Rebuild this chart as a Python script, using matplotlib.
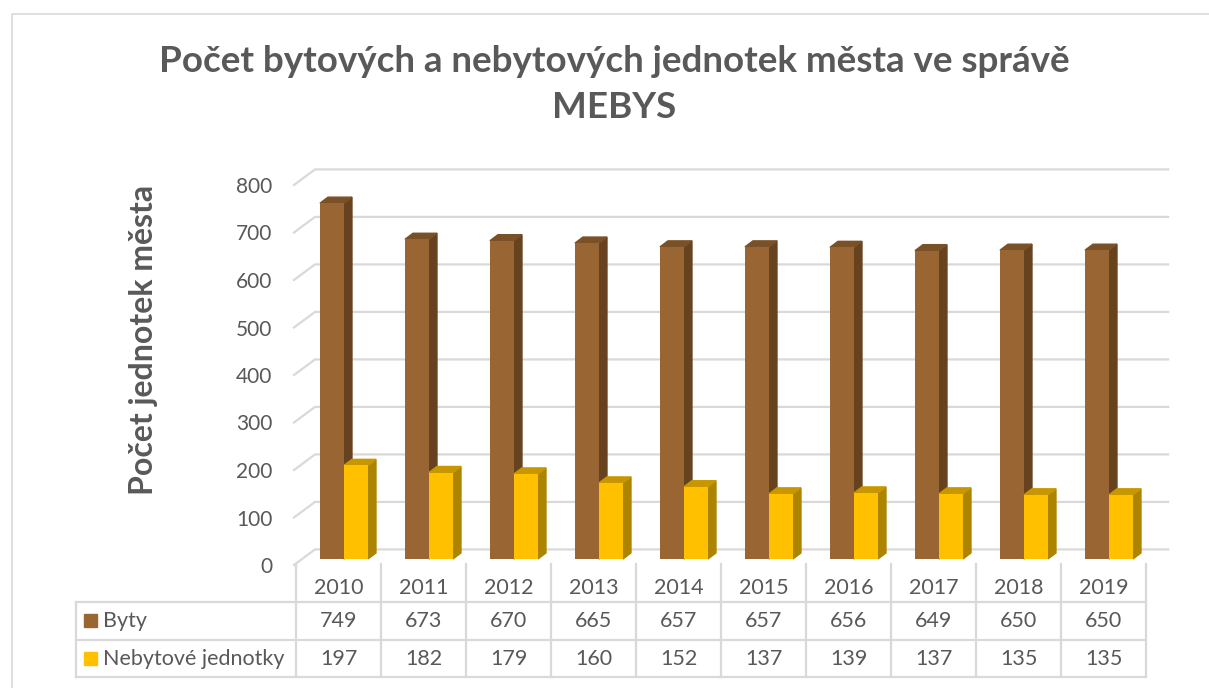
import matplotlib.pyplot as plt
from matplotlib.patches import Polygon, Rectangle

plt.rcParams['font.family'] = ['Lato', 'DejaVu Sans']

# data
roky = ['2010', '2011', '2012', '2013', '2014', '2015', '2016', '2017', '2018', '2019']
byty = [749, 673, 670, 665, 657, 657, 656, 649, 650, 650]
nebytove = [197, 182, 179, 160, 152, 137, 139, 137, 135, 135]
serie = ['Byty', 'Nebytové jednotky']
yticks = [0, 100, 200, 300, 400, 500, 600, 700, 800]

barvy = {
    'Byty': ('#996633', '#67421F', '#7A5127'),
    'Nebytové jednotky': ('#FFC000', '#AD8400', '#C89700'),
}
txt = '#595959'
sed = '#D9D9D9'

W, H = 1209, 688
fig = plt.figure(figsize=(W / 100, H / 100), dpi=100)


def fx(px):
    return px / W


def fy(py):
    return 1 - py / H


# hlavni osa: kategorie x rocni hodnoty
ax = fig.add_axes([fx(296), fy(565), (1146 - 296) / W, (565 - 185) / H])
ax.set_xlim(-0.5, 9.5)
ax.set_ylim(0, 800)
for s in ax.spines.values():
    s.set_visible(False)
ax.patch.set_visible(False)
ax.set_xticks([])
ax.set_yticks(yticks)
ax.tick_params(axis='y', length=0, pad=17, labelsize=15, labelcolor=txt)

# hloubka (3D efekt) v datovych jednotkach
wall_dx, wall_dy = 21 / 85, 15.5 / 0.4725
bar_dx, bar_dy = 8 / 85, 6 / 0.4725
lift = 6 / 0.4725

for v in yticks:
    ax.plot([-0.5 - 2 / 85, -0.5 - 2 / 85 + wall_dx, 9.76],
            [v, v + wall_dy, v + wall_dy],
            color=sed, lw=1.6, clip_on=False, zorder=1)

w = 24 / 85


def bar3d(x0, val, cols, z):
    front, side, top = cols
    ax.bar(x0, val, width=w, bottom=lift, align='edge', color=front,
           zorder=z + 0.2, clip_on=False)
    y0, y1 = lift, lift + val
    ax.add_patch(Polygon([(x0 + w, y0), (x0 + w + bar_dx, y0 + bar_dy),
                          (x0 + w + bar_dx, y1 + bar_dy), (x0 + w, y1)],
                         closed=True, color=side, zorder=z, clip_on=False))
    ax.add_patch(Polygon([(x0, y1), (x0 + bar_dx, y1 + bar_dy),
                          (x0 + w + bar_dx, y1 + bar_dy), (x0 + w, y1)],
                         closed=True, color=top, zorder=z + 0.1, clip_on=False))


for i in range(len(roky)):
    bar3d(i - 0.218, byty[i], barvy['Byty'], 3)
    bar3d(i - 0.218 + w, nebytove[i], barvy['Nebytové jednotky'], 4)

# titulek a popisek osy
fig.text(0.508, fy(62), 'Počet bytových a nebytových jednotek města ve správě',
         ha='center', va='center', fontsize=26.5, fontweight='bold', color=txt)
fig.text(0.508, fy(108), 'MEBYS', ha='center', va='center', fontsize=26.5,
         fontweight='bold', color=txt)
fig.text(fx(143), fy(340), 'Počet jednotek města', rotation=90, ha='center',
         va='center', fontsize=23, fontweight='bold', color=txt)

# tabulka dat
ov = fig.add_axes([0, 0, 1, 1], zorder=-1)
ov.set_xlim(0, W)
ov.set_ylim(H, 0)
ov.axis('off')
ov.plot([12, 12, W + 5], [H + 5, 14, 14], color=sed, lw=1.2)

col0, colw = 296, 85
r_top, r1, r2, r3 = 564, 602, 640, 677
for k in range(len(roky) + 1):
    ov.plot([col0 + colw * k] * 2, [r_top, r3], color=sed, lw=1.6)
ov.plot([76, 76], [r1, r3], color=sed, lw=1.6)
for yy in (r1, r2, r3):
    ov.plot([76, col0 + colw * len(roky)], [yy, yy], color=sed, lw=1.6)

fs = 15.5
for i, rok in enumerate(roky):
    cx = col0 + colw * (i + 0.5)
    ov.text(cx, 588, rok, ha='center', va='center', fontsize=fs, color=txt)
    ov.text(cx, 621, str(byty[i]), ha='center', va='center', fontsize=fs, color=txt)
    ov.text(cx, 659, str(nebytove[i]), ha='center', va='center', fontsize=fs, color=txt)

for name, yc in zip(serie, (621, 659)):
    ov.add_patch(Rectangle((84, yc - 7), 13, 13, color=barvy[name][0]))
    ov.text(103, yc, name, ha='left', va='center', fontsize=fs, color=txt)

fig.savefig('out.png', dpi=100, facecolor='white')
